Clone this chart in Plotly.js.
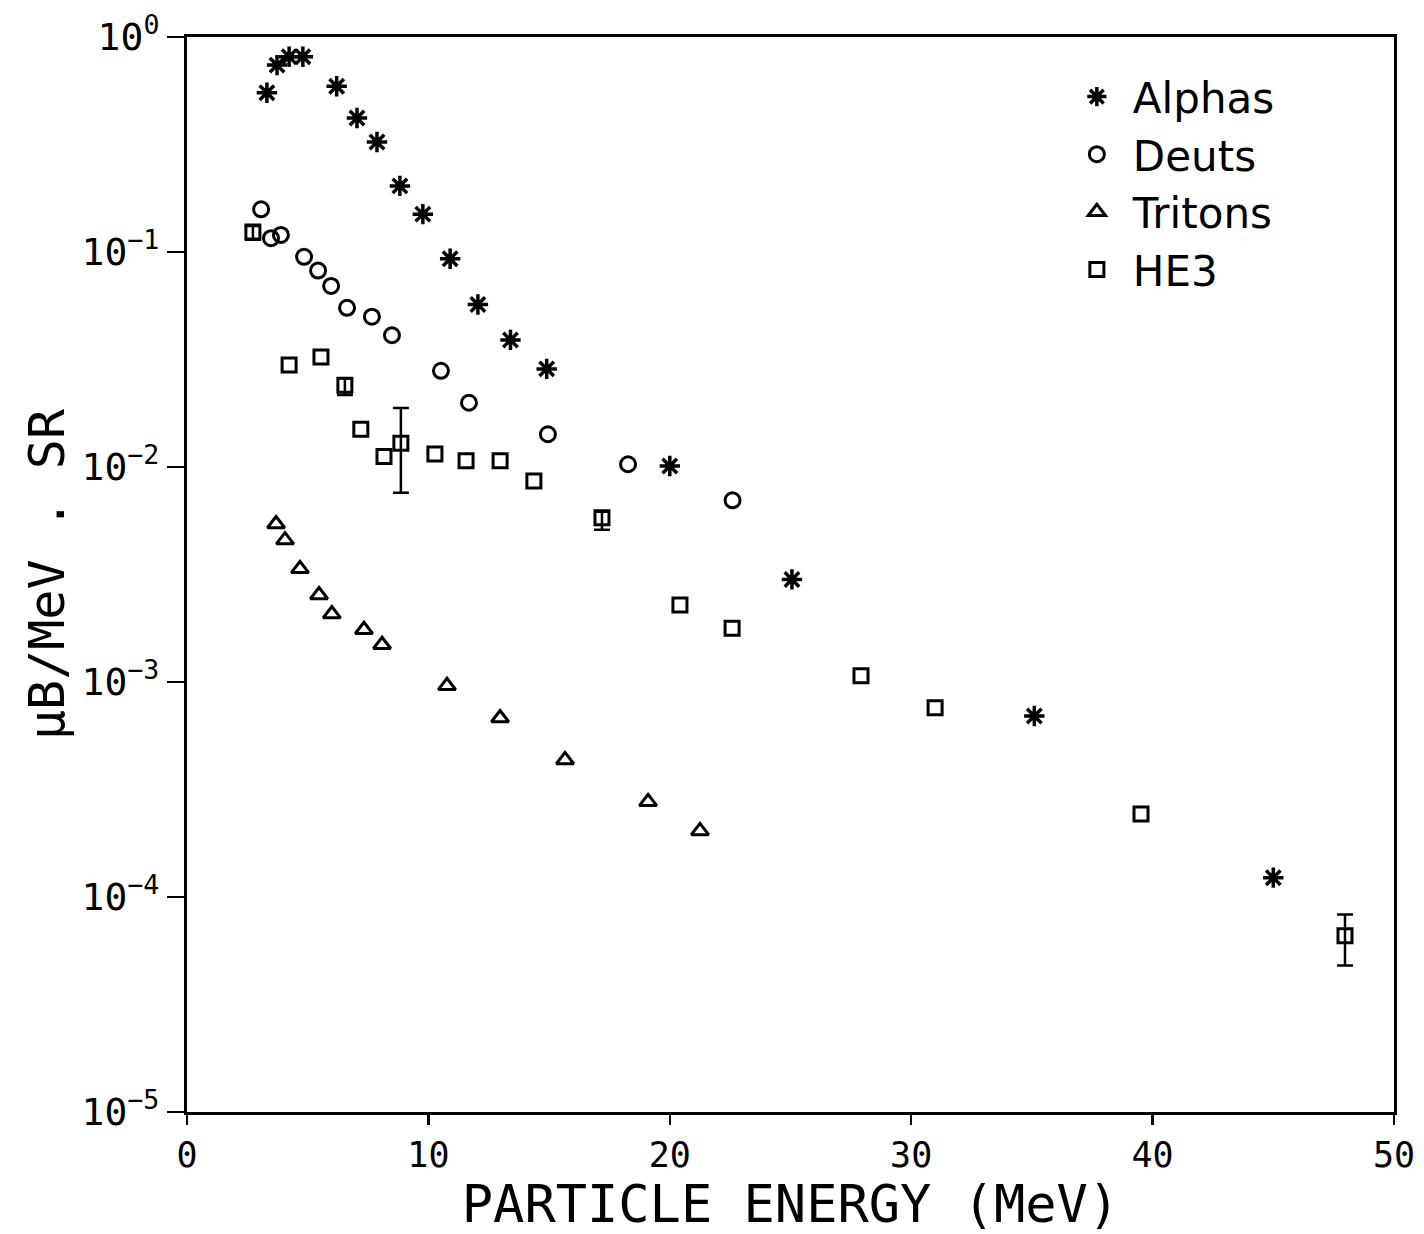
<!DOCTYPE html>
<html>
<head>
<meta charset="utf-8">
<script src="https://cdn.plot.ly/plotly-3.0.1.min.js"></script>
<style>html,body{margin:0;padding:0;background:#fff;}#chart{width:1424px;height:1234px;}</style>
</head>
<body>
<div id="chart"></div>
<script>
// Alphas
const alphaE = [3.31, 3.73, 4.23, 4.80, 6.20, 7.04, 7.87, 8.82, 9.77, 10.9, 12.05, 13.4, 14.9, 20.0, 25.06, 35.1, 45.0];
const alphaY = [0.55, 0.74, 0.81, 0.81, 0.59, 0.42, 0.325, 0.203, 0.150, 0.093, 0.057, 0.039, 0.0286, 0.0101, 0.0030, 6.95e-4, 1.23e-4];
// Deuterons
const deutE = [3.07, 3.48, 3.89, 4.85, 5.43, 5.97, 6.63, 7.66, 8.49, 10.52, 11.68, 14.95, 18.27, 22.6];
const deutY = [0.158, 0.116, 0.120, 0.095, 0.082, 0.0695, 0.055, 0.050, 0.041, 0.028, 0.0199, 0.0142, 0.0103, 0.0070];
// Tritons
const tritE = [3.69, 4.06, 4.68, 5.47, 6.00, 7.33, 8.08, 10.77, 12.97, 15.66, 19.1, 21.25];
const tritY = [0.00543, 0.00457, 0.00336, 0.00254, 0.00207, 0.00175, 0.00149, 9.6e-4, 6.8e-4, 4.34e-4, 2.77e-4, 2.03e-4];
// He-3
const he3E = [2.73, 4.23, 5.55, 6.54, 7.20, 8.16, 8.86, 10.27, 11.56, 12.97, 14.37, 17.19, 20.42, 22.58, 27.92, 30.99, 39.52, 47.97];
const he3Y = [0.124, 0.0298, 0.0325, 0.024, 0.0150, 0.0112, 0.0129, 0.0115, 0.0107, 0.0107, 0.0086, 0.0058, 0.00228, 0.00178, 0.00107, 7.6e-4, 2.43e-4, 6.6e-5];
const he3ErrPlus  = [0.008, NaN, NaN, 0.0019, NaN, NaN, 0.0059, NaN, NaN, NaN, NaN, 0.0004, NaN, NaN, NaN, NaN, NaN, 1.7e-5];
const he3ErrMinus = [0.010, NaN, NaN, 0.0024, NaN, NaN, 0.0053, NaN, NaN, NaN, NaN, 0.0007, NaN, NaN, NaN, NaN, NaN, 1.8e-5];

const seriesNames = ['Alphas', 'Deuts', 'Tritons', 'HE3'];
const yTickVals = [1, 0.1, 0.01, 0.001, 0.0001, 0.00001];
const yTickText = ['10<sup>0</sup>', '10<sup>−1</sup>', '10<sup>−2</sup>', '10<sup>−3</sup>', '10<sup>−4</sup>', '10<sup>−5</sup>'];
const xTickVals = [0, 10, 20, 30, 40, 50];

const FONT = 'DejaVu Sans Mono, monospace';

const traces = [
  {x: alphaE, y: alphaY, name: seriesNames[0], type: 'scatter', mode: 'markers',
   marker: {symbol: 'asterisk-open', size: 17, color: '#000', line: {color: '#000', width: 3.5}}},
  {x: deutE, y: deutY, name: seriesNames[1], type: 'scatter', mode: 'markers',
   marker: {symbol: 'circle-open', size: 15, color: '#000', line: {color: '#000', width: 3}}},
  {x: tritE, y: tritY, name: seriesNames[2], type: 'scatter', mode: 'markers',
   marker: {symbol: 'triangle-up-open', size: 15, color: '#000', line: {color: '#000', width: 3}}},
  {x: he3E, y: he3Y, name: seriesNames[3], type: 'scatter', mode: 'markers',
   marker: {symbol: 'square-open', size: 14, color: '#000', line: {color: '#000', width: 3}},
   error_y: {type: 'data', symmetric: false, array: he3ErrPlus, arrayminus: he3ErrMinus,
             color: '#000', thickness: 2.5, width: 8}}
];

const layout = {
  width: 1424, height: 1234,
  margin: {l: 187, r: 30, t: 37, b: 122},
  paper_bgcolor: '#fff', plot_bgcolor: '#fff',
  font: {family: FONT, color: '#000', size: 36},
  showlegend: true,
  legend: {x: 0.724, y: 0.976, xanchor: 'left', yanchor: 'top',
           font: {family: 'DejaVu Sans, sans-serif', size: 42, color: '#000'},
           bgcolor: 'rgba(0,0,0,0)', itemwidth: 62, tracegroupgap: 0},
  xaxis: {
    range: [0, 50], tickvals: xTickVals, ticks: 'outside', ticklen: 10, tickwidth: 2.5,
    tickcolor: '#000', showline: true, linecolor: '#000', linewidth: 3, mirror: true,
    showgrid: false, zeroline: false, tickfont: {size: 35, family: FONT},
    title: {text: 'PARTICLE ENERGY (MeV)', font: {size: 52, family: FONT}, standoff: 10}
  },
  yaxis: {
    type: 'log', range: [-5, 0], tickvals: yTickVals, ticktext: yTickText,
    ticks: 'outside', ticklen: 17, tickwidth: 2.5, tickcolor: '#000',
    showline: true, linecolor: '#000', linewidth: 3, mirror: true,
    showgrid: false, zeroline: false, tickfont: {size: 38, family: FONT},
    title: {text: 'μB/MeV . SR', font: {size: 50, family: FONT}, standoff: 2}
  }
};

Plotly.newPlot('chart', traces, layout, {staticPlot: true, displayModeBar: false});
</script>
</body>
</html>
